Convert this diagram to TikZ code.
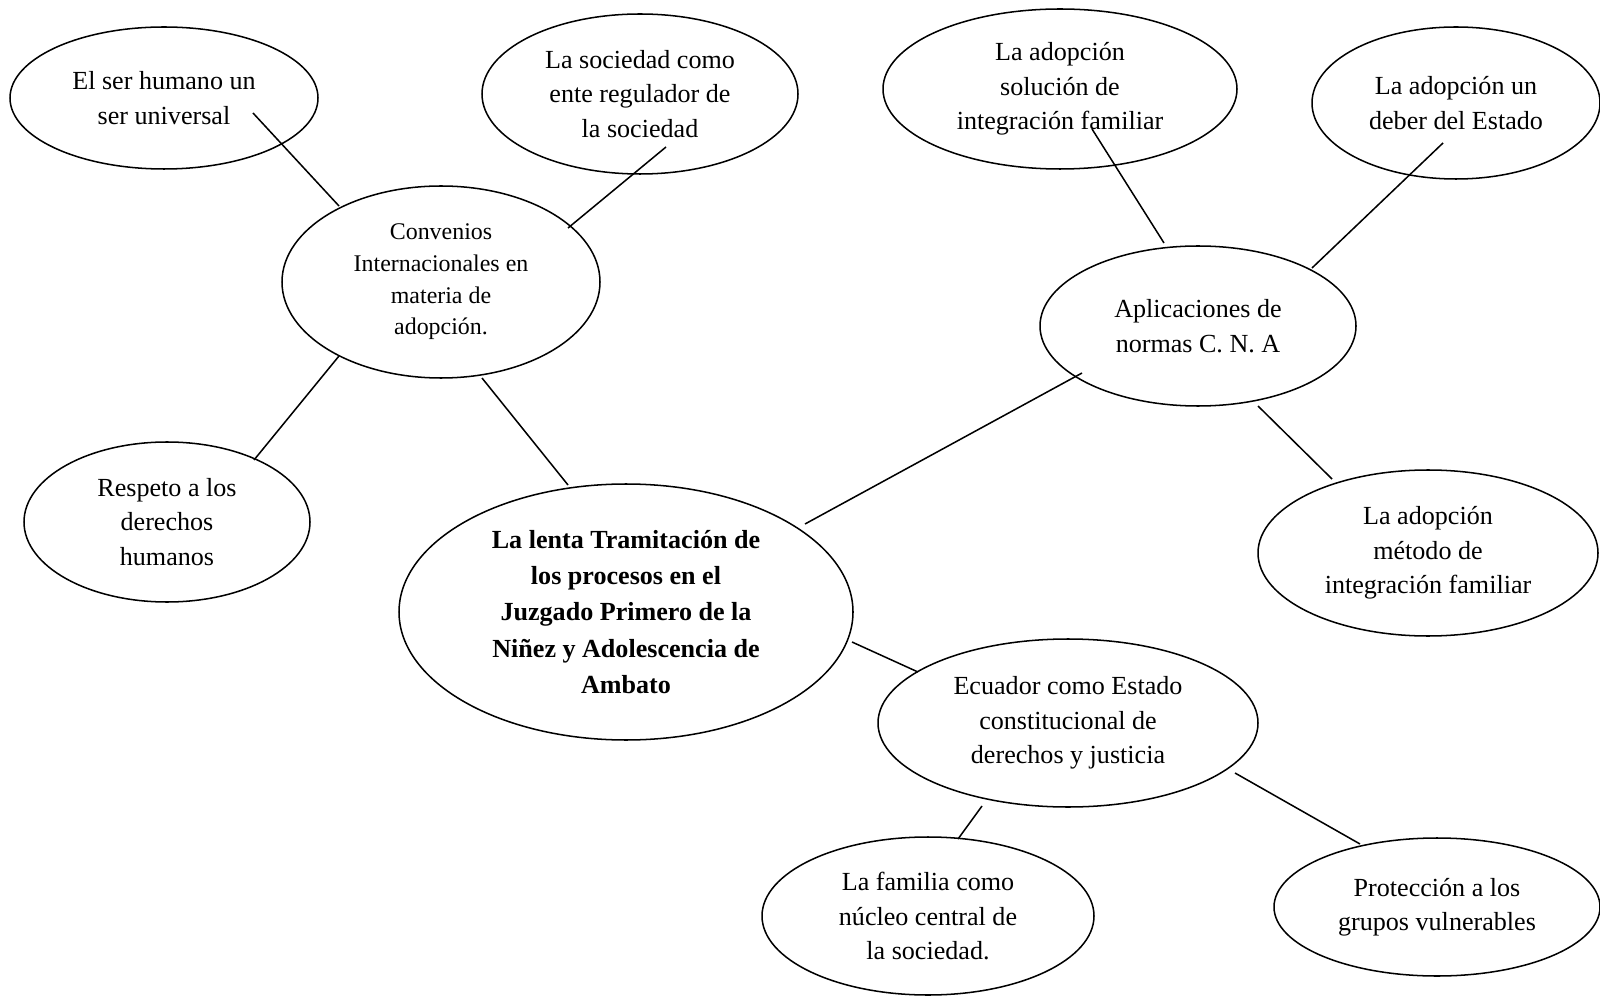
\documentclass[tikz,border=0pt]{standalone}
\usepackage{fontspec}
\setmainfont{Liberation Serif}
\usetikzlibrary{shapes}

\tikzset{
  bubble/.style={draw, ellipse, line width=0.7pt, align=center, inner sep=0pt,
                 font=\fontsize{12}{15.8}\selectfont},
  rxy/.style 2 args={minimum width=#1*0.92pt, minimum height=#2*0.92pt},
  link/.style={line width=0.7pt}
}

\begin{document}
\begin{tikzpicture}[x=0.46pt, y=-0.46pt]
            \useasboundingbox (0,0) rectangle (1600,997);

            \node[bubble, rxy={154}{71}] (hum) at (164, 98) {El ser humano un\\ser universal};
            \node[bubble, rxy={158}{80}] (soc) at (640, 94) {La sociedad como\\ente regulador de\\la sociedad};
            \node[bubble, rxy={159}{96}, font=\fontsize{11}{14.6}\selectfont] (conv) at (441, 282) {Convenios\\Internacionales en\\materia de\\adopción.};
            \node[bubble, rxy={143}{80}] (resp) at (167, 522) {Respeto a los\\derechos\\humanos};
            \node[bubble, rxy={227}{128}, font=\fontsize{12}{16.6}\selectfont\bfseries] (main) at (626, 612)
                {La lenta Tramitación de\\los procesos en el\\Juzgado Primero de la\\Niñez y Adolescencia de\\Ambato};

            \node[bubble, rxy={177}{80}] (sol) at (1060, 89) {La adopción\\solución de\\integración familiar};
            \node[bubble, rxy={144}{76}] (deb) at (1456, 103) {La adopción un\\deber del Estado};
            \node[bubble, rxy={158}{80}] (apl) at (1198, 326) {Aplicaciones de\\normas C. N. A};
            \node[bubble, rxy={170}{83}] (met) at (1428, 553) {La adopción\\método de\\integración familiar};
            \node[bubble, rxy={190}{84}] (ecu) at (1068, 723) {Ecuador como Estado\\constitucional de\\derechos y justicia};
            \node[bubble, rxy={166}{79}] (fam) at (928, 916) {La familia como\\núcleo central de\\la sociedad.};
            \node[bubble, rxy={163}{69}] (pro) at (1437, 907) {Protección a los\\grupos vulnerables};

            \draw[link] ([shift={(89,15)}]hum.center) -- ([shift={(-102,-76)}]conv.center);
            \draw[link] ([shift={(26,53)}]soc.center) -- ([shift={(127,-54)}]conv.center);
            \draw[link] ([shift={(-102,74)}]conv.center) -- ([shift={(87,-62)}]resp.center);
            \draw[link] ([shift={(41,96)}]conv.center) -- ([shift={(-58,-127)}]main.center);
            \draw[link] ([shift={(-116,47)}]apl.center) -- ([shift={(179,-88)}]main.center);
            \draw[link] ([shift={(32,40)}]sol.center) -- ([shift={(-34,-83)}]apl.center);
            \draw[link] ([shift={(-13,40)}]deb.center) -- ([shift={(114,-58)}]apl.center);
            \draw[link] ([shift={(60,80)}]apl.center) -- ([shift={(-96,-74)}]met.center);
            \draw[link] ([shift={(226,30)}]main.center) -- ([shift={(-150,-51)}]ecu.center);
            \draw[link] ([shift={(-86,83)}]ecu.center) -- ([shift={(30,-77)}]fam.center);
            \draw[link] ([shift={(167,50)}]ecu.center) -- ([shift={(-77,-63)}]pro.center);
        \end{tikzpicture}
\end{document}
